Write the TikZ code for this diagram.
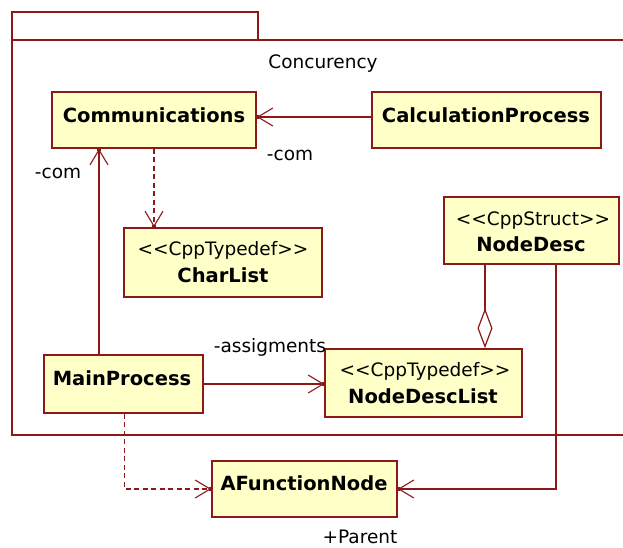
\documentclass[tikz,border=0pt]{standalone}
\usepackage{fontspec}
\setmainfont{DejaVu Sans}
\usetikzlibrary{arrows.meta,decorations.markings}
\definecolor{umlred}{RGB}{140,24,24}
\definecolor{umlfill}{RGB}{255,255,200}
\newcommand{\stereo}[1]{<{}<#1>{}>}
\begin{document}
\begin{tikzpicture}[x=1pt,y=-1pt,
  cls/.style={draw=umlred, fill=umlfill, line width=1.6pt, inner sep=0pt},
  nm/.style={font=\fontsize{19.5}{22}\selectfont\bfseries, anchor=base, inner sep=0pt},
  st/.style={font=\fontsize{18.5}{21}\selectfont, anchor=base, inner sep=0pt},
  conn/.style={draw=umlred, line width=1.3pt},
  navi/.style={-{Straight Barb[length=15pt,width=18pt,line width=1.1pt]},
    postaction={decorate, decoration={markings,
      mark=at position 1 with {\fill[umlred] (-2pt,-2pt) rectangle (2pt,2pt);}}}},
  dep/.style={line width=1.6pt, dash pattern=on 5pt off 3.5pt},
  agg/.style={{Diamond[open,length=40pt,width=15pt,line width=1.2pt]}-},
]
\useasboundingbox (0,0) rectangle (623,547);
\clip (0,0) rectangle (623,547);

% package frame with its tab
\draw[umlred, line width=1.4pt] (12,12) rectangle (258,40);
\draw[umlred, line width=1.4pt] (12,40) rectangle (640,435);
\node[st] (pkg) at (323,68) {Concurency};

% classes
\node[cls, minimum width=204pt, minimum height=56pt] (comm) at (154,120) {};
\node[nm] (comm-t) at (154,122) {Communications};

\node[cls, minimum width=229pt, minimum height=56pt] (calc) at (486.5,120) {};
\node[nm] (calc-t) at (486,122) {CalculationProcess};

\node[cls, minimum width=198pt, minimum height=69pt] (charlist) at (223,262.5) {};
\node[st] (charlist-s) at (223,255) {\stereo{CppTypedef}};
\node[nm] (charlist-t) at (223,282) {CharList};

\node[cls, minimum width=175pt, minimum height=67pt] (nodedesc) at (531.5,230.5) {};
\node[st] (nodedesc-s) at (533,225) {\stereo{CppStruct}};
\node[nm] (nodedesc-t) at (531,251) {NodeDesc};

\node[cls, minimum width=197pt, minimum height=68pt] (ndl) at (423.5,383) {};
\node[st] (ndl-s) at (425,376) {\stereo{CppTypedef}};
\node[nm] (ndl-t) at (423,403) {NodeDescList};

\node[cls, minimum width=159pt, minimum height=58pt] (main) at (123.5,384) {};
\node[nm] (main-t) at (122,385) {MainProcess};

\node[cls, minimum width=185pt, minimum height=56pt] (afn) at (304.5,489) {};
\node[nm] (afn-t) at (304,490) {AFunctionNode};

% routing guides
\coordinate (xa) at (99,0);
\coordinate (ya) at (0,117);
\coordinate (yc) at (0,384);
\coordinate (xd) at (485,0);
\coordinate (xe) at (556,0);
\coordinate (xf) at (124.5,0);

% connectors
\draw[conn,navi] (calc.west |- ya) -- (comm.east |- ya);
\draw[conn,navi] (main.north -| xa) -- (comm.south -| xa);
\draw[conn,dep,navi] (comm.south) -- (comm.south |- charlist.north);
\draw[conn,navi] (main.east |- yc) -- (ndl.west |- yc);
\draw[conn,agg] (ndl.north -| xd) -- (nodedesc.south -| xd);
\draw[conn,navi] (nodedesc.south -| xe) |- (afn.east);
\draw[conn,dep,navi] (main.south -| xf) |- (afn.west);

% role names
\node[st] (r1) at (290,160) {-com};
\node[st] (r2) at (58,178) {-com};
\node[st] (r3) at (270,352) {-assigments};
\node[st] (r4) at (360,543) {+Parent};
\end{tikzpicture}
\end{document}
